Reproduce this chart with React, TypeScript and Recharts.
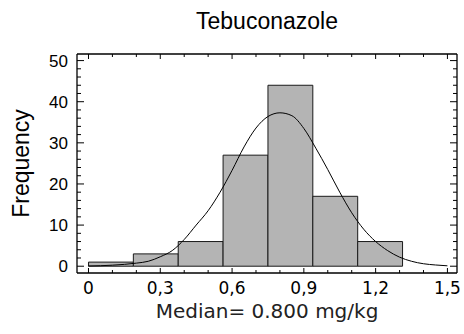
import React from 'react';
import { ComposedChart, Line, XAxis, YAxis, ReferenceArea, Label } from 'recharts';

const binEdges = [0, 0.1875, 0.375, 0.5625, 0.75, 0.9375, 1.125, 1.3125, 1.5];
const binCounts = [1, 3, 6, 27, 44, 17, 6, 0];

const curveX = [0, 0.05, 0.1, 0.15, 0.2, 0.25, 0.3, 0.35, 0.4, 0.45, 0.5, 0.55, 0.6, 0.65, 0.7, 0.75, 0.8, 0.85, 0.9, 0.95, 1.0, 1.05, 1.1, 1.15, 1.2, 1.25, 1.3, 1.35, 1.4, 1.45, 1.5];
const curveY = [0.05, 0.12, 0.25, 0.45, 0.75, 1.2, 2.3, 3.8, 6.5, 10, 13.5, 18, 23.3, 29, 33.6, 36.4, 37.3, 36.6, 33.5, 28.7, 23.5, 18, 13, 9, 6, 3.8, 2.2, 1.2, 0.6, 0.3, 0.1];

const xMajorTicks = [0, 0.3, 0.6, 0.9, 1.2, 1.5];
const xTickLabels = ['0', '0,3', '0,6', '0,9', '1,2', '1,5'];
const xAllTicks = [0, 0.1, 0.2, 0.3, 0.4, 0.5, 0.6, 0.7, 0.8, 0.9, 1.0, 1.1, 1.2, 1.3, 1.4, 1.5];
const yMajorTicks = [0, 10, 20, 30, 40, 50];
const yTickLabels = ['0', '10', '20', '30', '40', '50'];
const yAllTicks = [0, 2, 4, 6, 8, 10, 12, 14, 16, 18, 20, 22, 24, 26, 28, 30, 32, 34, 36, 38, 40, 42, 44, 46, 48, 50];

const titleText = 'Tebuconazole';
const xLabelText = 'Median= 0.800 mg/kg';
const yLabelText = 'Frequency';

const X_DOMAIN: [number, number] = [-0.048, 1.54];
const Y_DOMAIN: [number, number] = [-1.65, 51.6];

const chartData = curveX.map((x, i) => ({ x, y: curveY[i] }));

const majorIndex = (arr: number[], v: number) => arr.findIndex((m) => Math.abs(m - v) < 1e-6);

const BottomTick = (props: any) => {
  const { x, y, payload } = props;
  const idx = majorIndex(xMajorTicks, payload.value);
  const major = idx >= 0;
  return (
    <g>
      <line x1={x} x2={x} y1={y} y2={y - (major ? 5 : 3)} stroke="#000" strokeWidth={1} />
      {major && (
        <text x={x} y={y + 21} textAnchor="middle" fontFamily="DejaVu Sans" fontSize={17} fill="#000">
          {xTickLabels[idx]}
        </text>
      )}
    </g>
  );
};

const TopTick = (props: any) => {
  const { x, y, payload } = props;
  const major = majorIndex(xMajorTicks, payload.value) >= 0;
  return <line x1={x} x2={x} y1={y} y2={y + (major ? 5 : 3)} stroke="#000" strokeWidth={1} />;
};

const LeftTick = (props: any) => {
  const { x, y, payload } = props;
  const idx = majorIndex(yMajorTicks, payload.value);
  const major = idx >= 0;
  return (
    <g>
      <line x1={x} x2={x + (major ? 7 : 4)} y1={y} y2={y} stroke="#000" strokeWidth={1} />
      {major && (
        <text x={x - 9} y={y + 6} textAnchor="end" fontFamily="Liberation Sans" fontSize={17} fill="#000">
          {yTickLabels[idx]}
        </text>
      )}
    </g>
  );
};

const RightTick = (props: any) => {
  const { x, y, payload } = props;
  const major = majorIndex(yMajorTicks, payload.value) >= 0;
  return <line x1={x} x2={x - (major ? 7 : 4)} y1={y} y2={y} stroke="#000" strokeWidth={1} />;
};

export default function App() {
  return (
    <div style={{ position: 'absolute', left: 0, top: 0, background: '#fff' }}>
      <ComposedChart
        width={464}
        height={334}
        data={chartData}
        margin={{ top: 53, right: 6, bottom: 0, left: 0 }}
      >
        <XAxis
          dataKey="x"
          type="number"
          domain={X_DOMAIN}
          allowDataOverflow
          ticks={xAllTicks}
          interval={0}
          tickSize={0}
          tickMargin={0}
          tickLine={false}
          tick={<BottomTick />}
          axisLine={{ stroke: '#000', strokeWidth: 1.3 }}
          height={61}
        >
          <Label
            content={(p: any) => {
              const vb = p.viewBox;
              return (
                <text x={vb.x + vb.width / 2} y={vb.y + 45} textAnchor="middle" fontFamily="DejaVu Sans" fontSize={20} fill="#222">
                  {xLabelText}
                </text>
              );
            }}
          />
        </XAxis>
        <XAxis
          xAxisId="top"
          dataKey="x"
          type="number"
          orientation="top"
          domain={X_DOMAIN}
          allowDataOverflow
          ticks={xAllTicks}
          interval={0}
          tickSize={0}
          tickMargin={0}
          tickLine={false}
          tick={<TopTick />}
          axisLine={{ stroke: '#000', strokeWidth: 1.3 }}
          height={1}
        >
          <Label
            content={(p: any) => {
              const vb = p.viewBox;
              return (
                <text x={vb.x + vb.width / 2} y={29} textAnchor="middle" fontFamily="Liberation Sans" fontSize={23} fill="#000">
                  {titleText}
                </text>
              );
            }}
          />
        </XAxis>
        <YAxis
          type="number"
          domain={Y_DOMAIN}
          allowDataOverflow
          ticks={yAllTicks}
          interval={0}
          tickSize={0}
          tickMargin={0}
          tickLine={false}
          tick={<LeftTick />}
          axisLine={{ stroke: '#000', strokeWidth: 1.3 }}
          width={77}
        >
          <Label
            content={(p: any) => {
              const vb = p.viewBox;
              const cy = vb.y + vb.height / 2;
              return (
                <text
                  x={29}
                  y={cy}
                  transform={`rotate(-90 29 ${cy})`}
                  textAnchor="middle"
                  fontFamily="Liberation Sans"
                  fontSize={23}
                  fill="#000"
                >
                  {yLabelText}
                </text>
              );
            }}
          />
        </YAxis>
        <YAxis
          yAxisId="right"
          orientation="right"
          type="number"
          domain={Y_DOMAIN}
          allowDataOverflow
          ticks={yAllTicks}
          interval={0}
          tickSize={0}
          tickMargin={0}
          tickLine={false}
          tick={<RightTick />}
          axisLine={{ stroke: '#000', strokeWidth: 1.3 }}
          width={1}
        />
        {binCounts.map((c, i) =>
          c > 0 ? (
            <ReferenceArea
              key={i}
              x1={binEdges[i]}
              x2={binEdges[i + 1]}
              y1={0}
              y2={c}
              fill="#b4b4b4"
              fillOpacity={1}
              stroke="#1a1a1a"
              strokeWidth={1}
              ifOverflow="visible"
            />
          ) : null
        )}
        <Line
          dataKey="y"
          type="monotone"
          stroke="#000"
          strokeWidth={1}
          dot={false}
          activeDot={false}
          isAnimationActive={false}
        />
      </ComposedChart>
    </div>
  );
}
